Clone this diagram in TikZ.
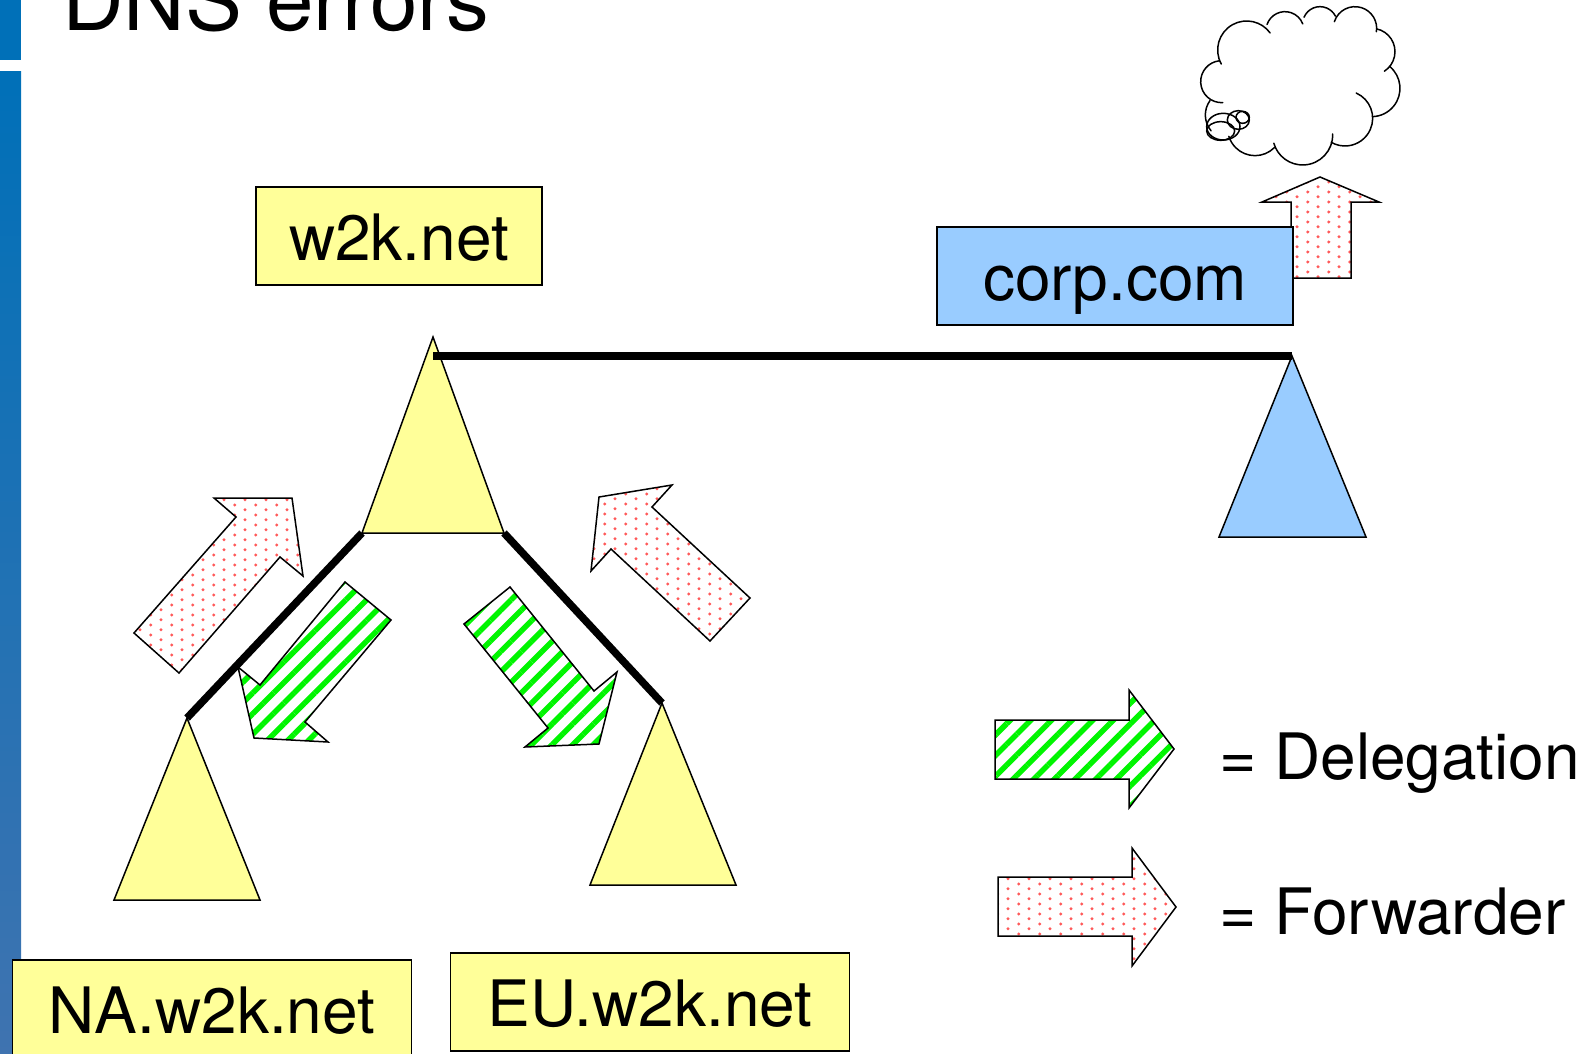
\documentclass[tikz,border=0pt]{standalone}
\usepackage{fontspec}
\setmainfont{TeX Gyre Heros}
\usetikzlibrary{patterns,patterns.meta}
\definecolor{treeyellow}{HTML}{FFFF99}
\definecolor{treeblue}{HTML}{99CCFF}
\definecolor{barblue}{HTML}{0070B8}
\definecolor{barlow}{HTML}{3F73B0}
\pgfdeclarepatternformonly{reddots}{\pgfqpoint{0pt}{0pt}}{\pgfqpoint{20.67pt}{10.33pt}}{\pgfqpoint{20.67pt}{10.33pt}}{
    \pgfpathcircle{\pgfqpoint{5.87pt}{8.5pt}}{1.7pt}
    \pgfpathcircle{\pgfqpoint{16.2pt}{3.4pt}}{1.7pt}
    \pgfusepath{fill}
}
\tikzset{
    zonebox/.style={draw, line width=1.5pt, inner sep=0pt, text height=48pt, text depth=0pt, font=\fontsize{64}{64}\selectfont},
    zonetree/.style={draw, line width=1.5pt, line join=miter},
    trust/.style={line width=7.5pt},
    delegation/.style={draw, line width=1.5pt, preaction={fill=white}, pattern={Lines[angle=45,distance=14.6pt,line width=5.5pt,yshift=5pt]}, pattern color=green!96!black},
    forwarder/.style={draw, line width=1.5pt, preaction={fill=white}, pattern=reddots, pattern color=red!65},
    legendtext/.style={anchor=base west, inner sep=0pt, font=\fontsize{64}{64}\selectfont},
    puff/.style={line width=1.5pt, line cap=round}
}
\begin{document}
\begin{tikzpicture}[x=1pt, y=-1pt]
    \useasboundingbox (0,0) rectangle (1585,1054);
    \fill[barblue] (0,0) rectangle (21,60);
    \shade[top color=barblue, bottom color=barlow] (0,72) rectangle (21,1054);
    \node (title) [anchor=base west, inner sep=0pt, font=\fontsize{85.4}{85.4}\selectfont] at (62,31) {DNS errors};

    % cloud
    \begin{scope}[shift={(1180,0)}, x=0.3333pt, y=-0.3333pt]
        \foreach \cx/\cy/\rad/\from/\to in {200/150/87/151/324, 315/92/57/199/339, 420/72/52/203/333,
            525/85/65/198/369, 575/155/70/282/417, 575/265/85/309/448, 495/355/83/294/480,
            368/405/90/-2/164, 225/385/82/45/163, 125/245/63/87/264, 150/345/74/140/216}
            \draw[puff] (\cx,\cy) ++(\from:\rad) arc[start angle=\from, end angle=\to, radius=\rad];
        \draw[puff] (130,380) ellipse [x radius=50, y radius=40];
        \draw[puff] (122,393) ellipse [x radius=42, y radius=28];
        \draw[puff] (175,360) ellipse [x radius=33, y radius=28];
        \draw[puff] (188,352) ellipse [x radius=20, y radius=18];
    \end{scope}

    % trees
    \draw[zonetree, fill=treeyellow] (433,337) coordinate (rootapex) -- (504,533) coordinate (rootright) -- (362,533) coordinate (rootleft) -- cycle;
    \draw[zonetree, fill=treeyellow] (187,718) coordinate (naapex) -- (260,900) -- (114,900) -- cycle;
    \draw[zonetree, fill=treeyellow] (662,703) coordinate (euapex) -- (736,885) -- (590,885) -- cycle;
    \draw[zonetree, fill=treeblue] (1292,356) coordinate (corpapex) -- (1366,537) -- (1219,537) -- cycle;
    \coordinate (rootbar) at (433,356);

    % links
    \draw[trust] (rootbar) -- (corpapex);
    \draw[trust] (rootleft) -- (naapex);
    \draw[trust] (rootright) -- (euapex);

    % arrows
    \draw[forwarder] (1320,177) -- (1379,202) -- (1351,202) -- (1351,278) -- (1291,278) -- (1291,202) -- (1262,202) -- cycle;
    \draw[forwarder] (134,633) -- (236,517) -- (214,498) -- (292,498) -- (303,576) -- (280,557) -- (179,673) -- cycle;
    \draw[forwarder] (750,598) -- (710,641) -- (611,549) -- (591,571) -- (599,497) -- (672,485) -- (652,507) -- cycle;
    \draw[delegation] (345,582) -- (391,620) -- (305,722) -- (328,742) -- (254,738) -- (238,667) -- (260,685) -- cycle;
    \draw[delegation] (510,587) -- (464,624) -- (548,728) -- (525,747) -- (599,744) -- (617,672) -- (594,691) -- cycle;

    % boxes
    \node (rootbox) [zonebox, fill=treeyellow, minimum width=286pt, minimum height=98pt] at (399,236) {w2k.net};
    \node (corpbox) [zonebox, fill=treeblue, minimum width=356pt, minimum height=98pt] at (1115,276) {corp.com};
    \node (nabox) [zonebox, fill=treeyellow, minimum width=399pt, minimum height=98pt] at (212,1009) {NA.w2k.net};
    \node (eubox) [zonebox, fill=treeyellow, minimum width=399pt, minimum height=98pt] at (650,1002) {EU.w2k.net};

    % legend
    \draw[delegation] (995,720) -- (1129,720) -- (1129,690) -- (1174,749) -- (1129,808) -- (1129,779) -- (995,779) -- cycle;
    \draw[forwarder] (998,877) -- (1132,877) -- (1132,848) -- (1176,907) -- (1132,966) -- (1132,936) -- (998,936) -- cycle;
    \node (delegationlabel) [legendtext] at (1219,779) {= Delegation};
    \node (forwarderlabel) [legendtext] at (1219,934) {= Forwarder};
\end{tikzpicture}
\end{document}
